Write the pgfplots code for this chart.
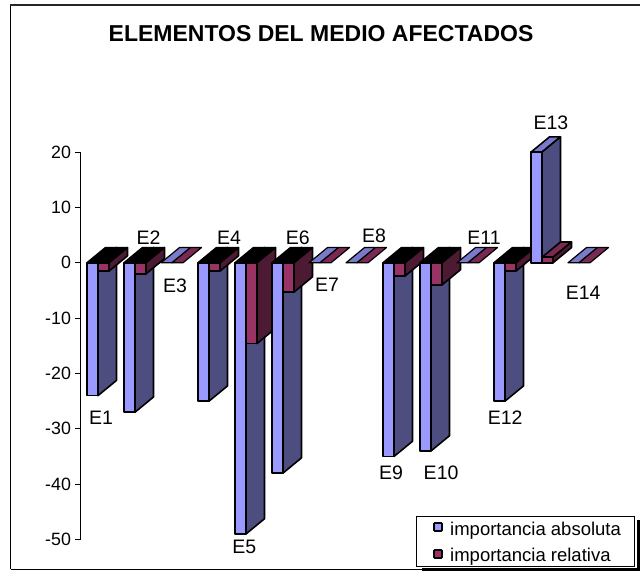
\documentclass[border=0pt]{standalone}
\usepackage{pgfplots}
\usepackage{pgfplotstable}
\usepackage{fontspec}
\setmainfont{Liberation Sans}
\pgfplotsset{compat=1.18}

\definecolor{absfront}{HTML}{9999FF}
\definecolor{absside}{HTML}{4D4D80}
\definecolor{abstop}{HTML}{7A7ACC}
\definecolor{relfront}{HTML}{993366}
\definecolor{relside}{HTML}{4D1A33}
\definecolor{reltop}{HTML}{7A2952}

% position  absolute  relative
\pgfplotstableread{
pos abs rel
0   -24   -1.5
1   -27   -2
2   0     0
3   -25   -1.5
4   -49   -14.6
5   -38   -5.3
6   0     0
7   0     0
8   -35   -2.4
9   -34   -4
10  0     0
11  -25   -1.5
12  20    1
13  0     0
}\barvalues

\newcommand{\barwd}{0.297}
\newcommand{\depx}{0.5}
\newcommand{\depy}{2.75}

% one bar of the pseudo-3D column chart: left edge, value, and its three face colours
\newcommand{\threedbar}[5]{%
  \pgfmathsetmacro{\xa}{#1}%
  \pgfmathsetmacro{\xb}{#1+\barwd}%
  \pgfmathsetmacro{\xc}{#1+\barwd+\depx}%
  \pgfmathsetmacro{\xd}{#1+\depx}%
  \pgfmathsetmacro{\vv}{#2}%
  \pgfmathsetmacro{\vd}{#2+\depy}%
  \pgfmathparse{#2<0 ? 1 : 0}%
  \ifnum\pgfmathresult=1 \def\topcol{black}\def\topv{0}\def\topd{\depy}\else\def\topcol{#5}\def\topv{\vv}\def\topd{\vd}\fi
  \edef\doplot{%
    \noexpand\addplot[draw=black,line width=1.6pt,line join=round,fill=\topcol,forget plot]
      coordinates {(\xa,\topv) (\xb,\topv) (\xc,\topd) (\xd,\topd)} --cycle;
    \noexpand\addplot[draw=black,line width=1.6pt,line join=round,fill=#4,forget plot]
      coordinates {(\xb,0) (\xc,\depy) (\xc,\vd) (\xb,\vv)} --cycle;
    \noexpand\addplot[draw=black,line width=1.6pt,line join=round,fill=#3,forget plot]
      coordinates {(\xa,0) (\xb,0) (\xb,\vv) (\xa,\vv)} --cycle;
  }%
  \doplot
}
% zero-height bar: only a flat parallelogram
\newcommand{\flatbar}[2]{%
  \pgfmathsetmacro{\xa}{#1}%
  \pgfmathsetmacro{\xb}{#1+\barwd}%
  \pgfmathsetmacro{\xc}{#1+\barwd+\depx}%
  \pgfmathsetmacro{\xd}{#1+\depx}%
  \edef\doplot{%
    \noexpand\addplot[draw=black,line width=1.2pt,line join=round,fill=#2,forget plot]
      coordinates {(\xa,0) (\xb,0) (\xc,\depy) (\xd,\depy)} --cycle;
  }%
  \doplot
}
\newcommand{\categorybar}[1]{%
  \pgfplotstablegetelem{#1}{abs}\of\barvalues\let\va\pgfplotsretval
  \pgfplotstablegetelem{#1}{rel}\of\barvalues\let\vr\pgfplotsretval
  \pgfmathparse{abs(\va)<0.01 ? 1 : 0}%
  \ifnum\pgfmathresult=1
    \flatbar{#1}{abstop}%
    \flatbar{#1+\barwd}{reltop}%
  \else
    \threedbar{#1}{\va}{absfront}{absside}{abstop}%
    \threedbar{#1+\barwd}{\vr}{relfront}{relside}{reltop}%
  \fi
}
\newcommand{\elabel}{\fontsize{19.5}{21}\selectfont}

\begin{document}
\begin{tikzpicture}[x=1pt,y=1pt]
\path (0,0) rectangle (640,571);
\begin{scope}
\clip (0,0) rectangle (640,571);
\draw[black,line width=1pt] (10.5,2) -- (10.5,566) (10.5,2) -- (425,2);
\draw[black!85,line width=1.8pt] (10,566) -- (640,566);
\end{scope}
\node[font=\bfseries\fontsize{23}{25}\selectfont] at (321,537) {ELEMENTOS DEL MEDIO AFECTADOS};

\begin{axis}[
  at={(80.5pt,31.5pt)},anchor=south west,
  scale only axis,width=524.5pt,height=387.4pt,
  xmin=-0.176,xmax=14,ymin=-50,ymax=20,
  clip=false,
  axis x line=none,
  axis y line=left,
  axis line style={-,black,line width=1pt},
  ytick={-50,-40,...,20},
  tick align=outside,
  tick style={black,line width=1pt},
  major tick length=6pt,
  yticklabel style={font=\fontsize{17.8}{19}\selectfont,/pgf/number format/assume math mode=true},
]
\pgfplotsinvokeforeach{0,...,13}{\categorybar{#1}}

\node[font=\elabel] at (axis cs:0.38,-28) {E1};
\node[font=\elabel] at (axis cs:1.66,4.6) {E2};
\node[font=\elabel] at (axis cs:2.38,-4.2) {E3};
\node[font=\elabel] at (axis cs:3.84,4.6) {E4};
\node[font=\elabel] at (axis cs:4.25,-51.4) {E5};
\node[font=\elabel] at (axis cs:5.70,4.5) {E6};
\node[font=\elabel] at (axis cs:6.49,-4) {E7};
\node[font=\elabel] at (axis cs:7.76,4.9) {E8};
\node[font=\elabel] at (axis cs:8.22,-37.9) {E9};
\node[font=\elabel] at (axis cs:9.57,-37.9) {E10};
\node[font=\elabel] at (axis cs:10.73,4.5) {E11};
\node[font=\elabel] at (axis cs:11.3,-28) {E12};
\node[font=\elabel] at (axis cs:12.54,25.3) {E13};
\node[font=\elabel] at (axis cs:13.41,-5.4) {E14};
\end{axis}

% legend box with its heavy shadow
\fill[black] (422,0) rectangle (640,3);
\fill[black] (636.5,0) rectangle (640,51);
\draw[black,line width=0.8pt,fill=white] (416,4.5) rectangle (634,55);
\draw[black,line width=1.6pt,fill=absfront,rounded corners=0.8pt] (434,40) rectangle (442,48);
\draw[black,line width=1.6pt,fill=relfront,rounded corners=0.8pt] (434,13) rectangle (442,21);
\node[anchor=base west,inner sep=0pt,font=\fontsize{18.5}{20}\selectfont] at (450,36) {importancia absoluta};
\node[anchor=base west,inner sep=0pt,font=\fontsize{18.5}{20}\selectfont] at (450,9.5) {importancia relativa};
\end{tikzpicture}
\end{document}
